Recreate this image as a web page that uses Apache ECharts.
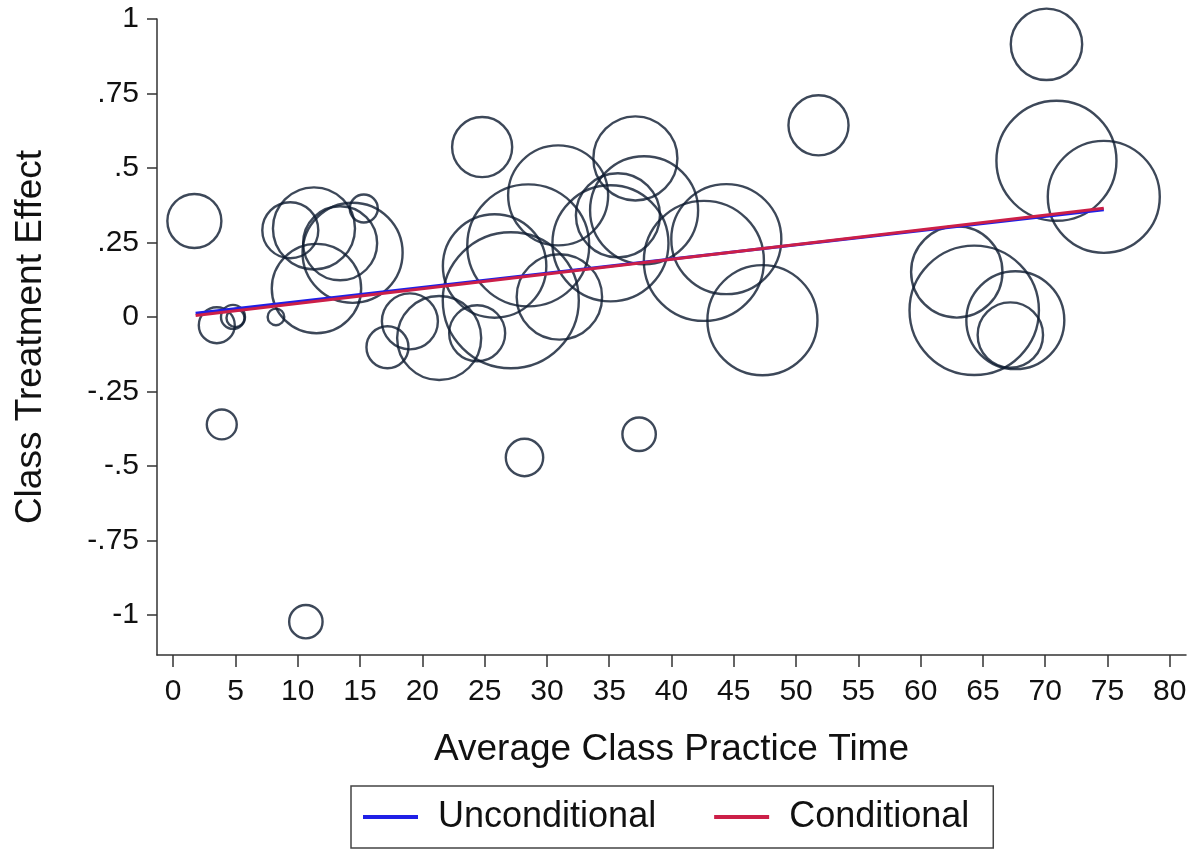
<!DOCTYPE html>
<html>
<head>
<meta charset="utf-8">
<script src="https://cdn.jsdelivr.net/npm/echarts@6/dist/echarts.min.js"></script>
<style>
html,body{margin:0;padding:0;background:#fff;}
#c{width:1195px;height:850px;}
</style>
</head>
<body>
<div id="c"></div>
<script>
// Average class practice time (x), class treatment effect (y), bubble weight (area)
const practiceTime = [1.7, 3.5, 4.8, 5.0, 8.25, 9.4, 11.3, 13.4, 14.4, 11.5, 15.3, 17.2, 19.0, 21.35, 24.8, 24.4, 27.1, 25.8, 28.5, 30.9, 31.0, 37.1, 37.8, 35.7, 35.1, 42.6, 44.4, 47.3, 51.8, 70.1, 70.9, 74.7, 62.9, 64.3, 67.6, 67.2, 3.9, 10.65, 28.2, 37.4];
const treatmentEffect = [0.322, -0.028, 0.0, -0.004, 0.0, 0.291, 0.297, 0.247, 0.215, 0.095, 0.364, -0.102, -0.015, -0.071, 0.570, -0.055, 0.056, 0.171, 0.24, 0.408, 0.067, 0.532, 0.358, 0.341, 0.247, 0.188, 0.261, -0.011, 0.643, 0.915, 0.524, 0.403, 0.151, 0.022, -0.011, -0.061, -0.361, -1.023, -0.472, -0.394];
const classWeight = [11.4, 5.06, 2.25, 1.27, 1.08, 12.25, 26.3, 21.4, 39.1, 31.2, 3.06, 6.9, 12.25, 27.6, 14.1, 12.25, 72.3, 41.8, 58.1, 39.1, 28.5, 27.6, 45.6, 27.6, 52.6, 56.3, 47.3, 47.3, 14.1, 19.9, 56.3, 49, 32.6, 65.4, 37.5, 16.7, 3.5, 4.36, 5.46, 4.36];

// Fitted lines (endpoints)
const unconditionalX = [1.8, 74.7];
const unconditionalY = [0.012, 0.360];
const conditionalX = [1.8, 74.7];
const conditionalY = [0.005, 0.365];

const xTicks = [0, 5, 10, 15, 20, 25, 30, 35, 40, 45, 50, 55, 60, 65, 70, 75, 80];
const yTicks = [-1, -0.75, -0.5, -0.25, 0, 0.25, 0.5, 0.75, 1];

const FONT = '"Liberation Sans", Arial, sans-serif';
const bubbles = practiceTime.map((x, i) => [x, treatmentEffect[i], classWeight[i]]);
const fmtY = v => {
  if (v === 0) return '0';
  if (Math.abs(v) === 1) return String(v);
  return String(v).replace('0.', '.');
};

const chart = echarts.init(document.getElementById('c'), null, {renderer: 'canvas'});
chart.setOption({
  animation: false,
  backgroundColor: '#fff',
  grid: {left: 157, top: 19, width: 1029, height: 636, containLabel: false},
  xAxis: {
    type: 'value', min: -1.3, max: 81.3,
    name: 'Average Class Practice Time', nameLocation: 'middle', nameGap: 76,
    nameTextStyle: {fontSize: 37, color: '#111', fontFamily: FONT},
    axisLine: {show: true, onZero: false, lineStyle: {color: '#333', width: 1.5}},
    axisTick: {show: true, length: 12, customValues: xTicks, lineStyle: {color: '#333', width: 1.5}},
    axisLabel: {show: true, customValues: xTicks, fontSize: 30, color: '#111', fontFamily: FONT, margin: 22},
    splitLine: {show: false}
  },
  yAxis: {
    type: 'value', min: -1.135, max: 1,
    name: 'Class Treatment Effect', nameLocation: 'middle', nameGap: 108, nameRotate: 90,
    nameTextStyle: {fontSize: 37, color: '#111', fontFamily: FONT},
    axisLine: {show: true, onZero: false, lineStyle: {color: '#333', width: 1.5}},
    axisTick: {show: true, length: 10, customValues: yTicks, lineStyle: {color: '#333', width: 1.5}},
    axisLabel: {show: true, customValues: yTicks, fontSize: 30, color: '#111', fontFamily: FONT, margin: 18, formatter: fmtY},
    splitLine: {show: false}
  },
  legend: {
    left: 351, top: 786,
    orient: 'horizontal',
    data: ['Unconditional', 'Conditional'],
    icon: 'rect', itemWidth: 55, itemHeight: 4, itemGap: 58,
    padding: [13, 24, 13, 12],
    borderColor: '#444', borderWidth: 1.5,
    textStyle: {fontSize: 36, color: '#111', fontFamily: FONT, padding: [0, 0, 0, 15]}
  },
  series: [
    {
      type: 'scatter', name: 'Classes',
      data: bubbles,
      symbol: 'circle',
      symbolSize: v => 2 * 8 * Math.sqrt(v[2]),
      itemStyle: {color: 'rgba(0,0,0,0)', borderColor: '#0c1a30', borderWidth: 2.4},
      emphasis: {disabled: true},
      z: 2
    },
    {
      type: 'line', name: 'Unconditional',
      data: unconditionalX.map((x, i) => [x, unconditionalY[i]]),
      symbol: 'none', lineStyle: {color: '#1f1fe6', width: 3}, itemStyle: {color: '#1f1fe6'},
      z: 3
    },
    {
      type: 'line', name: 'Conditional',
      data: conditionalX.map((x, i) => [x, conditionalY[i]]),
      symbol: 'none', lineStyle: {color: '#cc1f48', width: 3}, itemStyle: {color: '#cc1f48'},
      z: 4
    }
  ]
});
</script>
</body>
</html>
